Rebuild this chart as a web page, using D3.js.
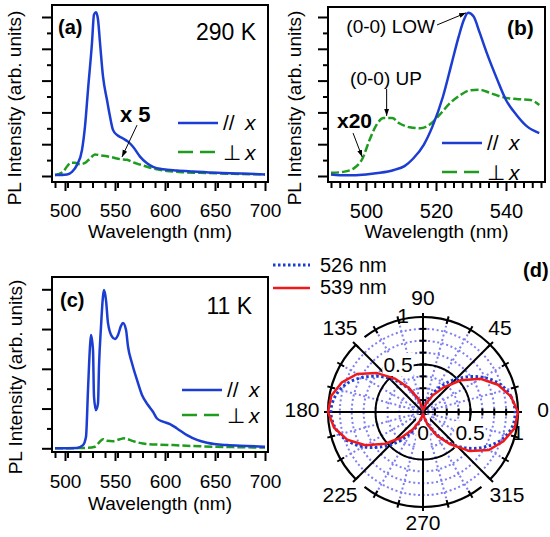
<!DOCTYPE html>
<html>
<head>
<meta charset="utf-8">
<script src="https://cdn.jsdelivr.net/npm/d3@7"></script>
<style>
  body { margin: 0; background: #fff; }
  text { font-family: "Liberation Sans", Arial, Helvetica, sans-serif; fill: #000; }
</style>
</head>
<body>
<div id="chart"></div>
<script>
/* Four-panel PL figure: spectra at 290 K (a, b), 11 K (c) and a polar plot (d). */

// ---- panel (a): 290 K, full range ----
const aParWave = [490, 502, 507, 512, 517, 520, 523, 527, 529, 531, 533, 535, 538, 542, 545, 548, 552, 558, 563, 568, 575, 582, 588, 598, 612, 628, 652, 675, 700];
const aParVal  = [0.03, 0.05, 0.13, 0.35, 0.82, 1.56, 2.71, 4.19, 5.08, 5.15, 4.92, 4.19, 3.13, 2.39, 1.87, 1.45, 1.29, 1.18, 1.08, 0.92, 0.61, 0.40, 0.29, 0.21, 0.17, 0.14, 0.10, 0.08, 0.05];
const aPerpWave = [490, 498, 502, 506, 510, 515, 520, 525, 530, 535, 542, 548, 555, 562, 568, 575, 582, 592, 602, 618, 635, 668, 700];
const aPerpVal  = [0.03, 0.13, 0.30, 0.42, 0.42, 0.37, 0.41, 0.55, 0.68, 0.65, 0.62, 0.58, 0.53, 0.51, 0.43, 0.36, 0.29, 0.21, 0.16, 0.12, 0.10, 0.07, 0.05];

// ---- panel (b): 290 K, zoom on 490-550 nm ----
const bParWave = [490, 494.5, 500, 504, 508, 511, 513.5, 516.5, 519, 522, 524.5, 526.5, 528, 529.2, 530.7, 532.5, 534.5, 537.5, 540, 543, 546, 549.5];
const bParVal  = [0.05, 0.02, 0.05, 0.10, 0.19, 0.31, 0.55, 0.98, 1.56, 2.50, 3.55, 4.39, 4.92, 5.13, 5.02, 4.50, 3.87, 3.03, 2.39, 1.92, 1.56, 1.35];
const bPerpWave = [490, 493.5, 496.5, 499, 501, 503, 505, 507.5, 509.5, 512.5, 515.5, 518.5, 521, 524, 527, 529.5, 532.5, 535.5, 539, 543, 547, 549.5];
const bPerpVal  = [0.10, 0.13, 0.24, 0.55, 1.13, 1.61, 1.82, 1.82, 1.66, 1.53, 1.50, 1.64, 1.92, 2.29, 2.55, 2.69, 2.71, 2.61, 2.48, 2.42, 2.39, 2.23];

// ---- panel (c): 11 K ----
const cParWave = [490, 512, 518, 521, 523, 525, 526, 528, 529, 531, 533, 534, 536, 538, 539, 541, 543, 547, 550, 553, 556, 558, 561, 563, 567, 572, 577, 583, 588, 592, 598, 605, 612, 622, 632, 642, 662, 682, 700];
const cParVal  = [0, 0.01, 0.08, 0.29, 1.47, 2.56, 2.85, 2.47, 1.30, 0.96, 1.13, 2.05, 3.06, 3.82, 3.98, 3.73, 3.15, 2.81, 2.75, 2.85, 3.08, 3.15, 2.98, 2.56, 2.14, 1.72, 1.34, 1.09, 0.92, 0.75, 0.67, 0.61, 0.50, 0.33, 0.21, 0.14, 0.08, 0.06, 0.04];
const cPerpWave = [490, 522, 530, 535, 538, 542, 548, 555, 559, 568, 578, 595, 608, 635, 668, 700];
const cPerpVal  = [0, 0.01, 0.04, 0.17, 0.23, 0.19, 0.18, 0.23, 0.25, 0.18, 0.12, 0.09, 0.08, 0.05, 0.03, 0.02];

// ---- panel (d): polar intensity vs angle ----
const polarAngles = [0, 10, 20, 30, 40, 50, 60, 70, 80, 90, 100, 110, 120, 130, 140, 150, 160, 170, 180,
                     190, 200, 210, 220, 230, 240, 250, 260, 270, 280, 290, 300, 310, 320, 330, 340, 350];
const r526 = [0.97, 0.94, 0.86, 0.73, 0.57, 0.41, 0.25, 0.12, 0.04, 0.01, 0.04, 0.12, 0.26, 0.42, 0.58, 0.73, 0.86, 0.94, 0.97,
              0.94, 0.86, 0.73, 0.57, 0.41, 0.25, 0.12, 0.04, 0.01, 0.04, 0.12, 0.26, 0.42, 0.59, 0.74, 0.87, 0.95];
const r539 = [1.00, 0.94, 0.84, 0.70, 0.52, 0.34, 0.20, 0.09, 0.03, 0.01, 0.05, 0.15, 0.29, 0.46, 0.64, 0.80, 0.91, 0.98, 1.00,
              0.95, 0.85, 0.70, 0.52, 0.35, 0.21, 0.10, 0.04, 0.01, 0.05, 0.14, 0.28, 0.44, 0.64, 0.80, 0.90, 0.98];

// tick labels
const wideTicks = [500, 550, 600, 650, 700];
const zoomTicks = [500, 520, 540];
const angleLabels = [0, 45, 90, 135, 180, 225, 270, 315];

const blue = "#1b3dd2", green = "#1e9c1e", red = "#f01818", gridCol = "#7f7ff2";

const svg = d3.select("#chart").append("svg")
    .attr("width", 550).attr("height", 537)
    .attr("viewBox", [0, 0, 550, 537]);

const defs = svg.append("defs");
defs.append("marker").attr("id", "arr")
    .attr("viewBox", "0 0 10 10").attr("refX", 10).attr("refY", 5)
    .attr("markerWidth", 7).attr("markerHeight", 7).attr("orient", "auto")
  .append("path").attr("d", "M0,1.5L10,5L0,8.5Z").attr("fill", "#000");

function tidy(a, fs) {
  a.select(".domain").remove();
  a.selectAll("line").attr("stroke-width", 2);
  a.attr("font-size", fs).attr("font-family", null);
}

function spectrum(p) {
  const x = d3.scaleLinear().domain(p.xd).range(p.xr);
  const y = d3.scaleLinear().domain(p.yd).range(p.yr);
  const [L, T, R, B] = p.box;
  const g = svg.append("g");

  // ticks outside the frame
  g.append("g").attr("transform", `translate(${L},0)`)
    .call(d3.axisLeft(y).tickValues(p.yMinor).tickSize(5).tickFormat("")).call(tidy, p.fs);
  g.append("g").attr("transform", `translate(${L},0)`)
    .call(d3.axisLeft(y).tickValues(p.yMajor).tickSize(10).tickFormat("")).call(tidy, p.fs);
  g.append("g").attr("transform", `translate(0,${B})`)
    .call(d3.axisBottom(x).tickValues(p.xMinor).tickSize(6).tickFormat("")).call(tidy, p.fs);
  g.append("g").attr("transform", `translate(0,${B})`)
    .call(d3.axisBottom(x).tickValues(p.xMajor).tickSize(9).tickFormat(d3.format("d")))
    .call(tidy, p.fs)
    .call(a => a.selectAll("text").attr("y", p.labelDy).attr("dy", 0));

  const line = d3.line().x(d => x(d[0])).y(d => y(d[1])).curve(d3.curveMonotoneX);
  g.append("path").datum(d3.zip(p.perpW, p.perpV)).attr("d", line)
    .attr("fill", "none").attr("stroke", green).attr("stroke-width", 2.5).attr("stroke-dasharray", "8,3");
  g.append("path").datum(d3.zip(p.parW, p.parV)).attr("d", line)
    .attr("fill", "none").attr("stroke", blue).attr("stroke-width", 2.5);

  g.append("rect").attr("x", L).attr("y", T).attr("width", R - L).attr("height", B - T)
    .attr("fill", "none").attr("stroke", "#000").attr("stroke-width", 2);

  // axis titles
  g.append("text").attr("x", (L + R) / 2).attr("y", B + p.titleDy)
    .attr("text-anchor", "middle").attr("font-size", 19).text("Wavelength (nm)");
  g.append("text").attr("transform", `translate(${p.yTitle[0]},${p.yTitle[1]}) rotate(-90)`)
    .attr("text-anchor", "middle").attr("font-size", 19).text("PL Intensity (arb. units)");

  // legend
  const lg = p.legend;
  g.append("line").attr("x1", lg.x).attr("x2", lg.x + 40).attr("y1", lg.y1).attr("y2", lg.y1)
    .attr("stroke", blue).attr("stroke-width", 2.5);
  g.append("line").attr("x1", lg.x).attr("x2", lg.x + 40).attr("y1", lg.y2).attr("y2", lg.y2)
    .attr("stroke", green).attr("stroke-width", 2.5).attr("stroke-dasharray", "15,7");
  const t1 = g.append("text").attr("x", lg.x + 45).attr("y", lg.y1 + 7).attr("font-size", 21);
  t1.append("tspan").text("//");
  t1.append("tspan").attr("x", lg.x + 67).attr("font-style", "italic").text("x");
  const t2 = g.append("text").attr("x", lg.x + 45).attr("y", lg.y2 + 8).attr("font-size", 21);
  t2.append("tspan").text("\u22a5");
  t2.append("tspan").attr("x", lg.x + 67).attr("font-style", "italic").text("x");

  for (const t of p.texts) {
    g.append("text").attr("x", t.x).attr("y", t.y).attr("font-size", t.fs || 20)
      .attr("font-weight", t.bold ? "bold" : null)
      .attr("text-anchor", t.anchor || "start").text(t.t);
  }
  return { x, y, g };
}

function arrow(panel, from, to) {
  panel.g.append("line")
    .attr("x1", panel.x(from[0])).attr("y1", panel.y(from[1]))
    .attr("x2", panel.x(to[0])).attr("y2", panel.y(to[1]))
    .attr("stroke", "#000").attr("stroke-width", 1).attr("marker-end", "url(#arr)");
}

const minorWide = d3.range(490, 701, 12.5).filter(v => v % 50 !== 0 && v >= 490);
const minorZoom = d3.range(490, 551, 2.5).filter(v => v % 20 !== 0);

const pa = spectrum({
  box: [52, 5, 268, 182], xd: [500, 700], xr: [65, 265], yd: [0, 5], yr: [176, 17],
  yMajor: [0, 1, 2, 3, 4, 5], yMinor: [0.5, 1.5, 2.5, 3.5, 4.5],
  xMajor: wideTicks, xMinor: minorWide, fs: 19, labelDy: 35, titleDy: 56,
  yTitle: [21, 108],
  parW: aParWave, parV: aParVal, perpW: aPerpWave, perpV: aPerpVal,
  legend: { x: 178, y1: 123, y2: 152 },
  texts: [
    { t: "(a)", x: 58, y: 34, bold: true },
    { t: "290 K", x: 256, y: 40, anchor: "end", fs: 23 },
    { t: "x 5", x: 120, y: 122, bold: true, fs: 22 }
  ]
});
arrow(pa, [572, 1.6], [557, 0.6]);

const pb = spectrum({
  box: [328, 7, 545, 182], xd: [500, 540], xr: [366, 506], yd: [0, 5], yr: [176, 17],
  yMajor: [0, 1, 2, 3, 4, 5], yMinor: [0.5, 1.5, 2.5, 3.5, 4.5],
  xMajor: zoomTicks, xMinor: minorZoom, fs: 20, labelDy: 36, titleDy: 56,
  yTitle: [301, 108],
  parW: bParWave, parV: bParVal, perpW: bPerpWave, perpV: bPerpVal,
  legend: { x: 442, y1: 143, y2: 172 },
  texts: [
    { t: "(b)", x: 507, y: 35, bold: true, fs: 21 },
    { t: "(0-0) LOW", x: 435, y: 33, anchor: "end", fs: 19 },
    { t: "(0-0) UP", x: 386, y: 85, anchor: "middle", fs: 19 },
    { t: "x20", x: 337, y: 128, bold: true, fs: 21 }
  ]
});
arrow(pb, [520.3, 4.75], [528.6, 5.13]);
arrow(pb, [505.9, 2.74], [505.9, 1.89]);
arrow(pb, [496.3, 1.35], [498.9, 0.6]);

spectrum({
  box: [52, 277, 268, 452], xd: [500, 700], xr: [65, 265], yd: [0, 4], yr: [448.3, 289.3],
  yMajor: [0, 1, 2, 3, 4], yMinor: [0.5, 1.5, 2.5, 3.5],
  xMajor: wideTicks, xMinor: minorWide, fs: 19, labelDy: 36, titleDy: 58,
  yTitle: [22, 377],
  parW: cParWave, parV: cParVal, perpW: cPerpWave, perpV: cPerpVal,
  legend: { x: 182, y1: 390, y2: 415 },
  texts: [
    { t: "(c)", x: 60, y: 307, bold: true },
    { t: "11 K", x: 252, y: 314, anchor: "end", fs: 23 }
  ]
});

// ---- polar plot (d) ----
const cx = 423, cy = 412, Rp = 95;
const r = d3.scaleLinear().domain([0, 1]).range([0, Rp]);
const rad = a => a * Math.PI / 180;
const P = (a, v) => [cx + r(v) * Math.cos(rad(a)), cy - r(v) * Math.sin(rad(a))];
const pg = svg.append("g");

// dotted grid
const gridR = d3.range(1, 8).map(k => k / 8);
pg.selectAll("circle.grid").data(gridR).join("circle")
  .attr("cx", cx).attr("cy", cy).attr("r", d => r(d))
  .attr("fill", "none").attr("stroke", gridCol).attr("stroke-width", 2).attr("stroke-dasharray", "2,2.6");
const gridA = d3.range(0, 360, 15).filter(a => a % 45 !== 0);
pg.selectAll("line.grid").data(gridA).join("line")
  .attr("x1", cx).attr("y1", cy)
  .attr("x2", d => P(d, 1)[0]).attr("y2", d => P(d, 1)[1])
  .attr("stroke", gridCol).attr("stroke-width", 2).attr("stroke-dasharray", "2,2.6");

// black frame: outer circle with small breaks, half circle, radial lines
const segs = [[135, 225], [232, 308], [315, 488]];
const outer = d3.path();
for (const [a0, a1] of segs) {
  const s = P(a0, 1);
  outer.moveTo(s[0], s[1]);
  outer.arc(cx, cy, Rp, -rad(a0), -rad(a1), true);
}
pg.append("path").attr("d", outer.toString()).attr("fill", "none").attr("stroke", "#000").attr("stroke-width", 2.2);
pg.append("circle").attr("cx", cx).attr("cy", cy).attr("r", r(0.5))
  .attr("fill", "none").attr("stroke", "#000").attr("stroke-width", 2);
for (const a of [0, 45, 90, 135, 180, 225, 270, 315]) {
  const e = P(a, 1);
  pg.append("line").attr("x1", cx).attr("y1", cy).attr("x2", e[0]).attr("y2", e[1])
    .attr("stroke", "#000").attr("stroke-width", 2);
}
// ticks on the circle
for (const a of d3.range(0, 360, 15)) {
  const p1 = P(a, 1 - 4 / Rp), p2 = P(a, 1 + 4 / Rp);
  pg.append("line").attr("x1", p1[0]).attr("y1", p1[1]).attr("x2", p2[0]).attr("y2", p2[1])
    .attr("stroke", "#000").attr("stroke-width", 2);
}
// radial ticks on the 0 and 90 axes
for (const v of d3.range(1, 9).map(k => k / 8)) {
  pg.append("line").attr("x1", cx + r(v)).attr("x2", cx + r(v)).attr("y1", cy - 3.5).attr("y2", cy + 3.5)
    .attr("stroke", "#000").attr("stroke-width", 2);
  pg.append("line").attr("x1", cx - 3.5).attr("x2", cx + 3.5).attr("y1", cy - r(v)).attr("y2", cy - r(v))
    .attr("stroke", "#000").attr("stroke-width", 2);
}

// labels
function plabel(t, x, y, pad) {
  const el = pg.append("text").attr("x", x).attr("y", y).attr("text-anchor", "middle")
    .attr("font-size", 21).text(t);
  if (pad) {
    const b = el.node().getBBox();
    pg.insert("rect", () => el.node())
      .attr("x", b.x - pad.l).attr("y", b.y - pad.t)
      .attr("width", b.width + pad.l + pad.r).attr("height", b.height + pad.t + pad.b)
      .attr("fill", "#fff");
  }
}
const angPos = {
  0: [543, 417], 45: [500, 335], 90: [423, 305], 135: [340, 335],
  180: [302, 417], 225: [340, 502], 270: [423, 530], 315: [507, 502]
};
for (const a of angleLabels) plabel(String(a), angPos[a][0], angPos[a][1]);
plabel("1", 403, 323);
plabel("0.5", 398, 372, { l: 1, r: 1, t: 0, b: 0 });
plabel("0", 423, 440, { l: 1, r: 1, t: 6, b: 7 });
plabel("0.5", 470, 440, { l: 1, r: 1, t: 0, b: 4 });
plabel("1", 518, 440);

// curves
const radial = d3.lineRadial()
  .angle(d => rad(90 - d[0]))
  .radius(d => r(d[1]));
const cg = pg.append("g").attr("transform", `translate(${cx},${cy})`);
cg.append("path").datum(d3.zip(polarAngles, r526))
  .attr("d", radial.curve(d3.curveCatmullRomClosed))
  .attr("fill", "none").attr("stroke", blue).attr("stroke-width", 3).attr("stroke-dasharray", "2.5,2.5");
cg.append("path").datum(d3.zip(polarAngles, r539))
  .attr("d", radial.curve(d3.curveLinearClosed))
  .attr("fill", "none").attr("stroke", red).attr("stroke-width", 2.5);

// legend of (d)
svg.append("line").attr("x1", 273).attr("x2", 310).attr("y1", 265).attr("y2", 265)
  .attr("stroke", blue).attr("stroke-width", 3).attr("stroke-dasharray", "2.5,2.5");
svg.append("text").attr("x", 320).attr("y", 272).attr("font-size", 20).text("526 nm");
svg.append("line").attr("x1", 273).attr("x2", 310).attr("y1", 288).attr("y2", 288)
  .attr("stroke", red).attr("stroke-width", 2.5);
svg.append("text").attr("x", 320).attr("y", 294).attr("font-size", 20).text("539 nm");
svg.append("text").attr("x", 523).attr("y", 277).attr("font-size", 20).attr("font-weight", "bold").text("(d)");
</script>
</body>
</html>
